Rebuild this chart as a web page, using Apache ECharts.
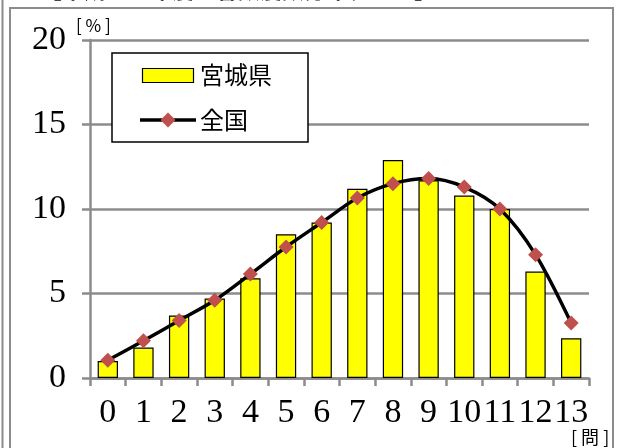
<!DOCTYPE html>
<html><head><meta charset="utf-8">
<script src="https://cdn.jsdelivr.net/npm/echarts@6/dist/echarts.min.js"></script>
<style>html,body{margin:0;padding:0;background:#fff}#c{width:618px;height:448px}</style>
</head><body><div id="c"></div>
<script>
const categories = ['0','1','2','3','4','5','6','7','8','9','10','11','12','13'];
const miyagi = [1.0, 1.8, 3.7, 4.7, 5.9, 8.5, 9.2, 11.2, 12.9, 11.7, 10.8, 10.0, 6.3, 2.35];
const national = [1.05, 2.2, 3.4, 4.6, 6.15, 7.75, 9.2, 10.65, 11.5, 11.8, 11.3, 10.0, 7.3, 3.25];
const seriesNames = ['宮城県', '全国'];
const titleText = '【平成２９年度正答数度数分布グラフ】';
const yUnit = '[ % ]';
const xUnit = '[ 問 ]';

const chart = echarts.init(document.getElementById('c'), null, {renderer: 'canvas'});
const gray = '#8c8c8c';
const serif = '"Liberation Serif", "DejaVu Serif", serif';
const sans = '"Noto Sans CJK JP", sans-serif';
const barColor = '#FFFF00';
const markColor = '#C0504D';
const Z = 100;
chart.setOption({
  animation: false,
  backgroundColor: '#fff',
  grid: {left: 90, right: 29, top: 40, bottom: 70},
  legend: {show: false, data: seriesNames},
  xAxis: {
    type: 'category', data: categories, boundaryGap: true,
    axisLine: {lineStyle: {color: gray, width: 2.5}},
    axisTick: {show: true, length: 8, lineStyle: {color: gray, width: 2.5}},
    axisLabel: {interval: 0, margin: 18, fontSize: 34, color: '#000', fontFamily: serif}
  },
  yAxis: {
    type: 'value', min: 0, max: 20, interval: 5,
    axisLine: {show: true, lineStyle: {color: gray, width: 2.5}},
    axisTick: {show: true, length: 8, lineStyle: {color: gray, width: 2.5}},
    splitLine: {show: true, lineStyle: {color: gray, width: 2.5}},
    axisLabel: {margin: 24, fontSize: 34, color: '#000', fontFamily: serif}
  },
  series: [
    {name: seriesNames[0], type: 'bar', data: miyagi, barWidth: '57%',
     itemStyle: {color: barColor, borderColor: '#000', borderWidth: 1.2}},
    {name: seriesNames[1], type: 'line', data: national, smooth: 0.3, z: 5,
     symbol: 'diamond', symbolSize: 15,
     lineStyle: {color: '#000', width: 3.5},
     itemStyle: {color: markColor}}
  ],
  graphic: [
    {type: 'rect', shape: {x: 10, y: 8, width: 603, height: 470}, style: {fill: 'none', stroke: '#8c8c8c', lineWidth: 2}, silent: true},
    {type: 'line', shape: {x1: 2.5, y1: 0, x2: 2.5, y2: 448}, style: {stroke: '#8c8c8c', lineWidth: 2}, silent: true},
    {type: 'text', left: 40, top: -21, style: {text: titleText, fontSize: 22, fontWeight: 'bold', fill: '#000', fontFamily: sans}},
    {type: 'text', left: 76, top: 17, style: {text: yUnit, fontSize: 17, fill: '#000', fontFamily: sans}},
    {type: 'text', left: 571, top: 428, style: {text: xUnit, fontSize: 18, fill: '#000', fontFamily: sans}},
    // legend box
    {type: 'rect', z: Z, shape: {x: 112, y: 53, width: 196, height: 89}, style: {fill: '#fff', stroke: '#000', lineWidth: 1.5}},
    {type: 'rect', z: Z + 1, shape: {x: 142.5, y: 68.5, width: 51, height: 14}, style: {fill: barColor, stroke: '#000', lineWidth: 1.2}},
    {type: 'text', z: Z + 1, x: 200, y: 75, style: {text: seriesNames[0], fontSize: 24, fill: '#000', fontFamily: sans, verticalAlign: 'middle'}},
    {type: 'line', z: Z + 1, shape: {x1: 140, y1: 120, x2: 196, y2: 120}, style: {stroke: '#000', lineWidth: 3.5}},
    {type: 'polygon', z: Z + 2, shape: {points: [[168, 112.5], [175.5, 120], [168, 127.5], [160.5, 120]]}, style: {fill: markColor}},
    {type: 'text', z: Z + 1, x: 200, y: 120, style: {text: seriesNames[1], fontSize: 24, fill: '#000', fontFamily: sans, verticalAlign: 'middle'}}
  ]
});
</script></body></html>
